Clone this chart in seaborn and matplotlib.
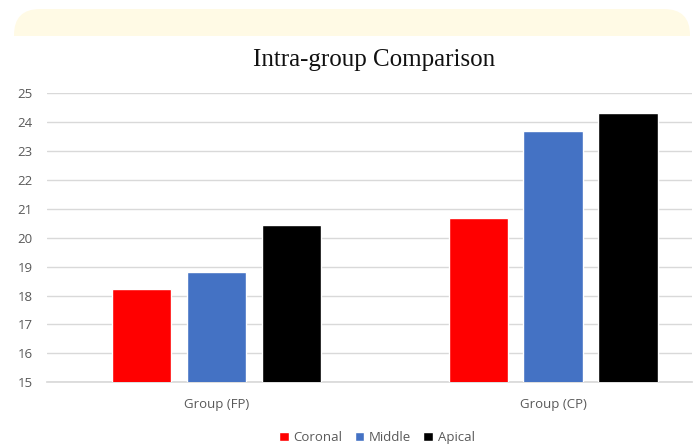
import matplotlib
matplotlib.use("Agg")
import matplotlib.pyplot as plt
from matplotlib.patches import FancyBboxPatch, Rectangle
import pandas as pd
import seaborn as sns

# dati
groups = ["Group (FP)", "Group (CP)"]
regions = ["Coronal", "Middle", "Apical"]
coronal = [18.22, 20.70]
middle = [18.82, 23.70]
apical = [20.44, 24.31]
colors = ["#FF0000", "#4472C4", "#000000"]

df = pd.DataFrame({
    "group": groups * 3,
    "region": [r for r in regions for _ in groups],
    "value": coronal + middle + apical,
})

sns.set_theme(style="white")
plt.rcParams["font.family"] = ["Open Sans", "DejaVu Sans"]

fig = plt.figure(figsize=(6.97, 4.45), dpi=100)
ax = fig.add_axes([0.067, 0.141, 0.9254, 0.649])
ax.set_zorder(5)
ax.patch.set_alpha(0)

# banda crema in alto con angoli arrotondati (solo sopra)
band = FancyBboxPatch((0.14, 3.70), 6.76, 0.66,
                      boxstyle="round,pad=0,rounding_size=0.26",
                      transform=fig.dpi_scale_trans, facecolor="#FFFAE5",
                      edgecolor="none", zorder=0)
fig.patches.append(band)
cover = Rectangle((0.0, 3.60), 6.97, 0.49, transform=fig.dpi_scale_trans,
                  facecolor="white", edgecolor="none", zorder=1)
fig.patches.append(cover)

sns.barplot(data=df, x="group", y="value", hue="region", hue_order=regions,
            palette=colors, width=0.668, gap=0.21, saturation=1,
            ax=ax, zorder=3)

ax.set_ylim(15, 25)
ax.set_xlim(-0.505, 1.412)
ax.set_yticks(range(15, 26))
ax.yaxis.grid(True, color="#D9D9D9", linewidth=1)
ax.set_axisbelow(True)
for s in ["top", "right", "left"]:
    ax.spines[s].set_visible(False)
ax.spines["bottom"].set_color("#D9D9D9")
ax.tick_params(axis="both", length=0, labelsize=9.5, labelcolor="#595959")
ax.tick_params(axis="y", pad=10)
ax.tick_params(axis="x", pad=11)
ax.set_xlabel("")
ax.set_ylabel("")

fig.text(0.537, 0.865, "Intra-group Comparison", ha="center", va="center",
         fontsize=18, color="#111111", family=["Liberation Serif", "DejaVu Serif"],
         zorder=6)

sns.move_legend(ax, "lower center", bbox_to_anchor=(0.512, -0.255), ncol=3,
                frameon=False, title=None, fontsize=9.5, handlelength=0.75,
                handleheight=0.75, handletextpad=0.35, columnspacing=0.9)
for t in ax.get_legend().get_texts():
    t.set_color("#595959")

fig.savefig("out.png", dpi=100)
